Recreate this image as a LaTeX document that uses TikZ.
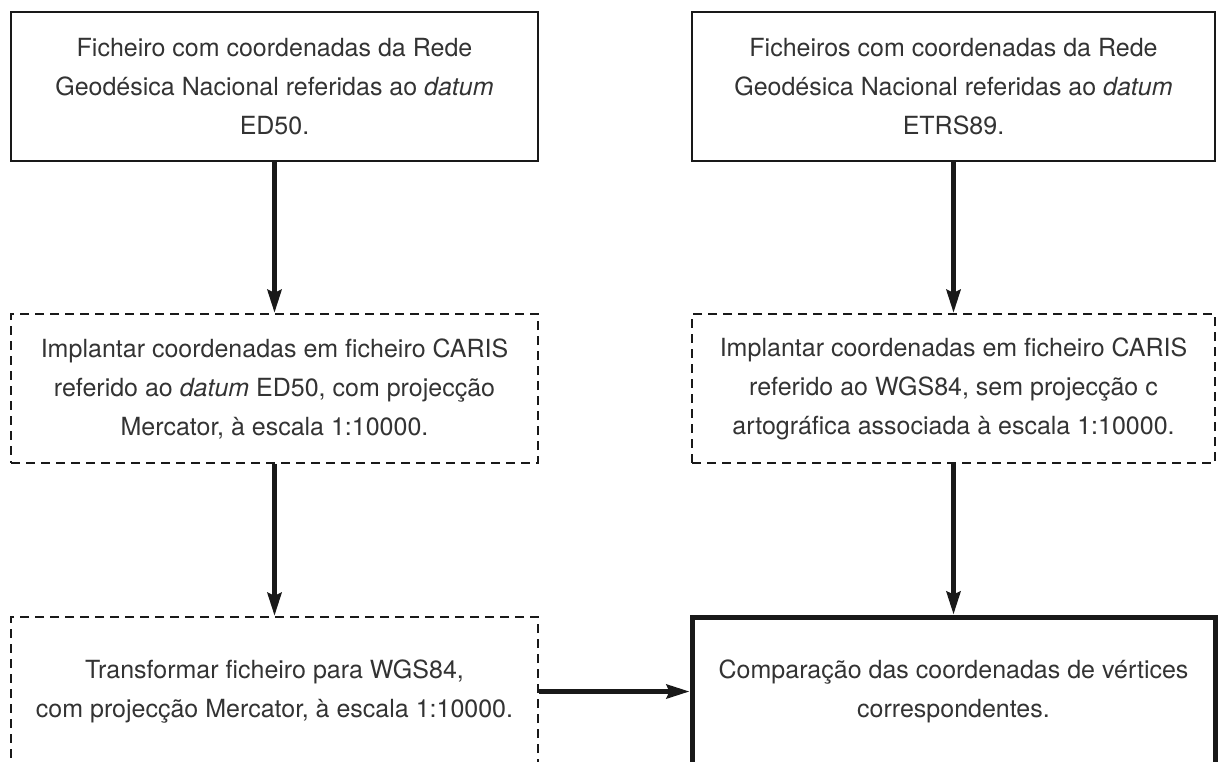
\documentclass[tikz,border=0pt]{standalone}
\usepackage{fontspec}
\setmainfont{TeX Gyre Heros}
\usetikzlibrary{arrows.meta}
\tikzset{
  caixa/.style={draw=black!90, line width=2.4pt, minimum height=149pt, align=center,
    inner sep=0pt, text=black!80, font=\fontsize{25}{39}\selectfont},
  tracejada/.style={caixa, dash pattern=on 9pt off 6pt},
  grossa/.style={caixa, line width=5pt},
  seta/.style={draw=black!90, line width=4.5pt, -{Stealth[length=23pt,width=14pt,inset=3pt]}},
}
\begin{document}
\begin{tikzpicture}[x=1pt, y=-1pt] % {{{
\pgfmathsetmacro{\colesq}{274.5}
\pgfmathsetmacro{\coldir}{953.5}
\useasboundingbox (0,0) rectangle (1220,761);
\clip (0,0) rectangle (1220,761);
% Ficheiros de partida {{{
\node[caixa, minimum width=527pt] (fichED) at (\colesq,86.5)
  {Ficheiro com coordenadas da Rede\\Geodésica Nacional referidas ao \textit{datum}\\ED50.};
\node[caixa, minimum width=523pt] (fichETRS) at (\coldir,86.5)
  {Ficheiros com coordenadas da Rede\\Geodésica Nacional referidas ao \textit{datum}\\ETRS89.};
% }}}
% Implantar em CARIS {{{
\node[tracejada, minimum width=527pt] (implED) at (\colesq,388.5)
  {Implantar coordenadas em ficheiro CARIS\\referido ao \textit{datum} ED50, com projecção\\Mercator, à escala 1:10000.};
\node[tracejada, minimum width=523pt] (implWGS) at (\coldir,388.5)
  {Implantar coordenadas em ficheiro CARIS\\referido ao WGS84, sem projecção c\\artográfica associada à escala 1:10000.};
% }}}
% Transformar e comparar {{{
\node[tracejada, minimum width=527pt] (transf) at (\colesq,691.5)
  {Transformar ficheiro para WGS84,\\com projecção Mercator, à escala 1:10000.};
\node[grossa, minimum width=523pt] (compar) at (\coldir,691.5)
  {Comparação das coordenadas de vértices\\correspondentes.};
% }}}
% Setas {{{
\draw[seta] (fichED) -- (implED);
\draw[seta] (implED) -- (transf);
\draw[seta] (fichETRS) -- (implWGS);
\draw[seta] (implWGS) -- (compar);
\draw[seta] (transf) -- (compar);
% }}}
\end{tikzpicture} % }}}
\end{document}
